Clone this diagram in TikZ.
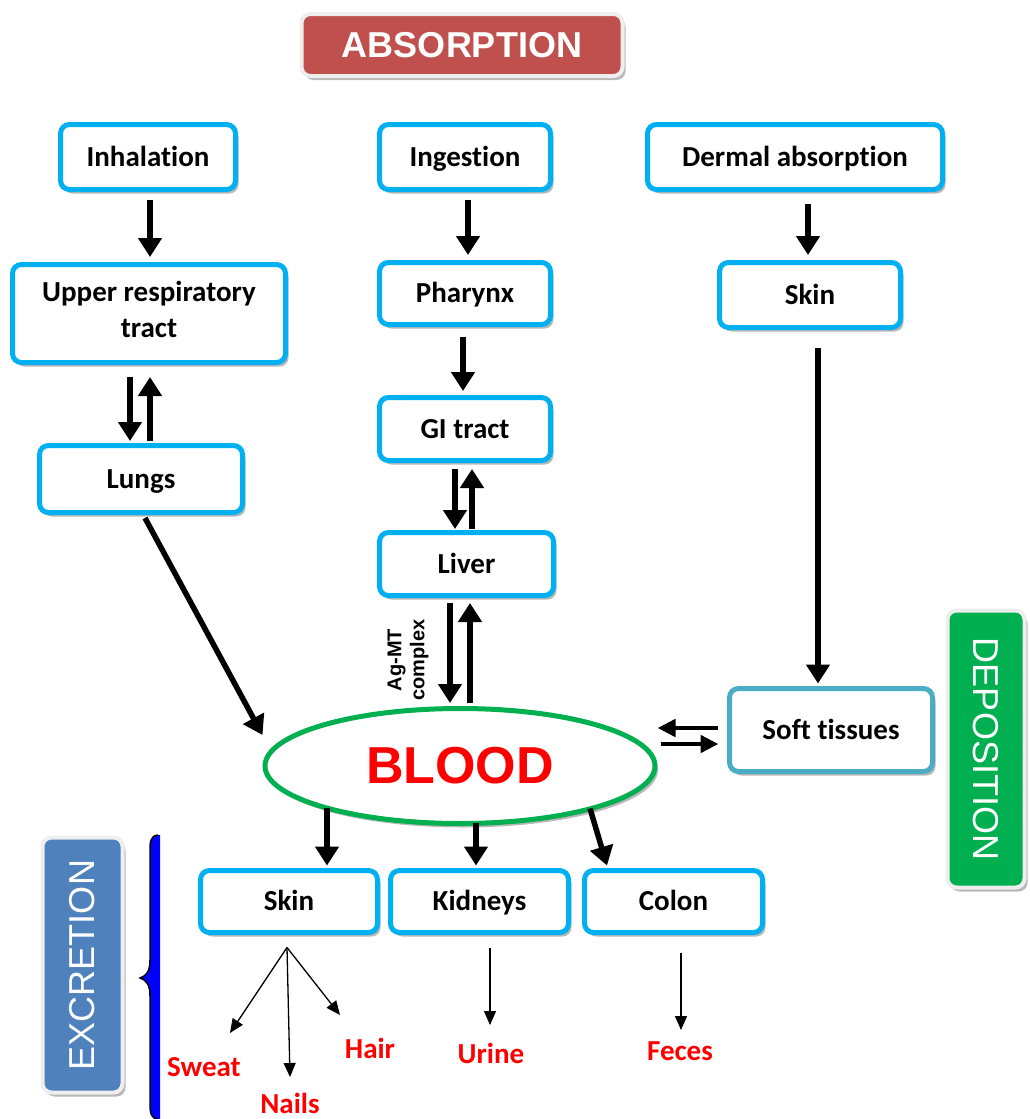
\documentclass[tikz,border=0pt]{standalone}
\usepackage{fontspec}
\setmainfont{Carlito}[Ligatures=NoCommon]
\newfontfamily\arial{Liberation Sans}
\usetikzlibrary{arrows.meta,shapes.geometric,shadows,calc}
\definecolor{boxblue}{RGB}{0,176,240}
\definecolor{softblue}{RGB}{75,172,198}
\definecolor{absred}{RGB}{192,80,77}
\definecolor{excblue}{RGB}{79,129,189}
\definecolor{depgreen}{RGB}{0,176,80}
\definecolor{bordergray}{RGB}{238,238,238}
\begin{document}
\begin{tikzpicture}[x=1pt,y=-1pt,
  shad/.style={drop shadow={shadow xshift=3pt,shadow yshift=-4pt,fill=black,opacity=0.28}},
  organ/.style={draw=boxblue,line width=5pt,rounded corners=9pt,fill=white,
    font=\bfseries\fontsize{29}{36}\selectfont,align=center,inner sep=0pt,shad,
    execute at begin node=\rule{0pt}{26pt}, execute at end node=\rule[-8pt]{0pt}{8pt}},
  banner/.style={draw=bordergray,line width=4pt,rounded corners=9pt,text=white,
    inner sep=0pt,font=\arial\fontsize{36}{42}\selectfont,shad},
  big/.style={line width=5.5pt,-{Triangle[width=23pt,length=19pt]}},
  mid/.style={line width=4.5pt,-{Triangle[width=17pt,length=18pt]}},
  thin/.style={line width=1.3pt,-{Triangle[width=12pt,length=14pt]}},
  outlabel/.style={text=red,font=\bfseries\fontsize{29}{32}\selectfont,inner sep=0pt}
]
\useasboundingbox (0,0) rectangle (1029,1119);

% banners
\node[banner,fill=absred,minimum width=321pt,minimum height=62pt,font=\arial\bfseries\fontsize{36}{44}\selectfont] (abs) at (462,45) {ABSORPTION};
\node[banner,fill=excblue,rotate=90,minimum width=255pt,minimum height=80pt] (exc) at (82.5,965) {EXCRETION};
\node[banner,fill=depgreen,rotate=-90,minimum width=277pt,minimum height=77pt] (dep) at (986,749) {DEPOSITION};

% organ boxes
\node[organ,minimum width=175pt,minimum height=65pt] (inh) at (148,157) {Inhalation};
\node[organ,minimum width=171pt,minimum height=65pt] (ing) at (465,157) {Ingestion};
\node[organ,minimum width=295pt,minimum height=65pt] (derm) at (795,157) {Dermal absorption};
\node[organ,minimum width=273pt,minimum height=98pt] (urt) at (149,313.5) {Upper respiratory\\tract};
\node[organ,minimum width=171pt,minimum height=62pt] (phar) at (465,293.5) {Pharynx};
\node[organ,minimum width=181pt,minimum height=65pt] (skin1) at (810,295) {Skin};
\node[organ,minimum width=171pt,minimum height=63pt] (gi) at (465,429) {GI tract};
\node[organ,minimum width=203pt,minimum height=67pt] (lungs) at (141,479) {Lungs};
\node[organ,minimum width=174pt,minimum height=63pt] (liver) at (466.5,564) {Liver};
\node[organ,draw=softblue,minimum width=203pt,minimum height=83pt] (soft) at (831,730) {Soft tissues};
\node[organ,minimum width=177pt,minimum height=62pt] (skin2) at (289,901.5) {Skin};
\node[organ,minimum width=178pt,minimum height=62pt] (kid) at (479.5,901.5) {Kidneys};
\node[organ,minimum width=178pt,minimum height=62pt] (colon) at (673.5,901.5) {Colon};

% blood
\node[ellipse,draw=depgreen,line width=5pt,fill=white,minimum width=390pt,minimum height=115pt,inner sep=0pt,shad,
  text=red,font=\arial\bfseries\fontsize{52}{60}\selectfont] (blood) at (460,766) {BLOOD};

\node[rotate=90,font=\arial\bfseries\fontsize{20}{23}\selectfont,align=center,inner sep=0pt] (agmt) at (408,660) {Ag-MT\\complex};

% outputs
\node[outlabel] (sweat) at (204,1067) {Sweat};
\node[outlabel] (nails) at (290,1103) {Nails};
\node[outlabel] (hair) at (370,1048) {Hair};
\node[outlabel] (urine) at (491,1053) {Urine};
\node[outlabel] (feces) at (680,1051) {Feces};

\coordinate (sweatEnd) at (230,1033);
\coordinate (nailsEnd) at (290,1077);
\coordinate (hairEnd) at (340,1015);
\coordinate (urineEnd) at (490,1025);
\coordinate (fecesEnd) at (681,1030);

% absorption arrows
\draw[big] ($(inh.south)+(2,8)$) -- ($(urt.north)+(1,-5)$);
\draw[big] ($(ing.south)+(3,8)$) -- ($(phar.north)+(3,-5)$);
\draw[big] ($(derm.south)+(13,12)$) -- ($(skin1.north)+(-2,-5)$);
\draw[big] ($(phar.south)+(-2,10)$) -- ($(gi.north)+(-2,-4)$);
\draw[big] ($(urt.south)+(-19,12)$) -- ($(lungs.north)+(-11,-2)$);
\draw[big] ($(lungs.north)+(9,-2)$) -- ($(urt.south)+(1,12)$);
\draw[big] ($(gi.south)+(-10,6)$) -- ($(liver.north)+(-11.5,-1)$);
\draw[big] ($(liver.north)+(5.5,-1)$) -- ($(gi.south)+(7,6)$);
\draw[big] ($(liver.south)+(-16.5,5)$) -- ($(blood.north)+(-10,-3)$);
\draw[big] ($(blood.north)+(10,-3)$) -- ($(liver.south)+(3.5,5)$);
\draw[big] ($(lungs.south)+(4,3)$) -- ($(blood.west)+(0,-31)$);
\draw[big] ($(skin1.south)+(8,17.5)$) -- ($(soft.north)+(-13,-2.5)$);

% deposition exchange
\draw[mid] ($(soft.west)+(-9.5,-2)$) -- ($(blood.east)+(0,-38)$);
\draw[mid] ($(blood.east)+(3,-22)$) -- ($(soft.west)+(-8.5,14)$);

% excretion
\draw[big] ($(blood.south)+(-133,-18.5)$) -- ($(skin2.north)+(38,-2.5)$);
\draw[big] ($(blood.south)+(16,-3.5)$) -- ($(kid.north)+(-3.5,-2.5)$);
\draw[big] ($(blood.south)+(130,-17.5)$) -- ($(colon.north)+(-66.5,-2.5)$);

\draw[thin] ($(skin2.south)+(-2,12.5)$) -- (sweatEnd);
\draw[thin] ($(skin2.south)+(-2,12.5)$) -- (nailsEnd);
\draw[thin] ($(skin2.south)+(-2,12.5)$) -- (hairEnd);
\draw[thin] ($(kid.south)+(10.5,12.5)$) -- (urineEnd);
\draw[thin] ($(colon.south)+(7.5,17.5)$) -- (fecesEnd);

% brace
\fill[blue] (158,835) .. controls (150,836) and (150,842) .. (150,852) -- (150,960)
  .. controls (150,972) and (146,976) .. (140,978) .. controls (146,980) and (150,984) .. (150,996)
  -- (150,1105) .. controls (150,1114) and (152,1119) .. (158,1119) -- (160,1119) -- (160,835) -- cycle;
\draw[line width=1.5pt] (158,835) .. controls (150,836) and (150,842) .. (150,852) -- (150,960)
  .. controls (150,972) and (146,976) .. (140,978) .. controls (146,980) and (150,984) .. (150,996)
  -- (150,1105) .. controls (150,1114) and (152,1119) .. (158,1119);
\end{tikzpicture}
\end{document}
